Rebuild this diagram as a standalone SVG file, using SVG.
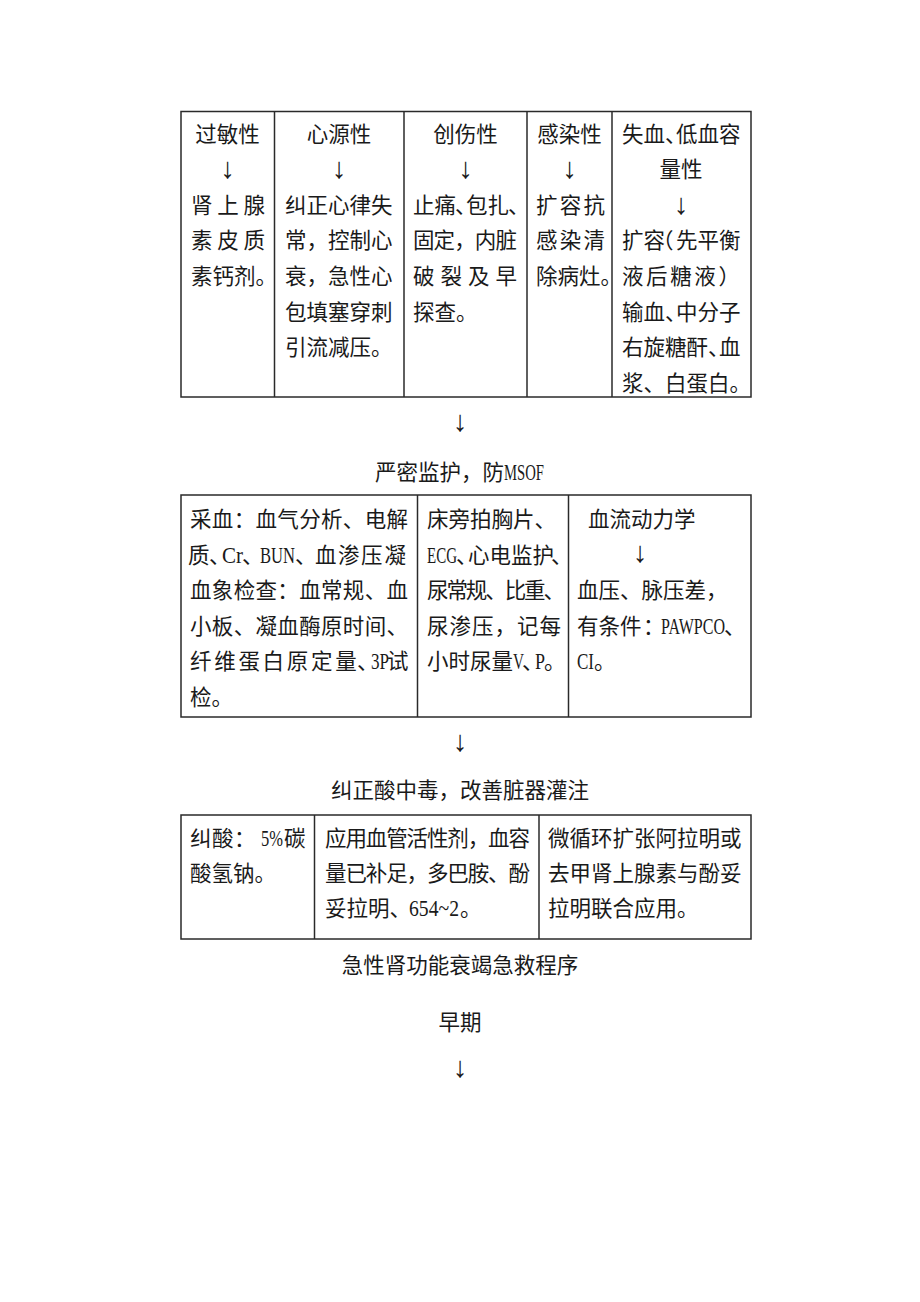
<svg xmlns="http://www.w3.org/2000/svg" width="920" height="1302" viewBox="0 0 920 1302">
<style>
.bg{fill:#ffffff}
.box{fill:none;stroke:#2a2a2a;stroke-width:1.5}
.t{font-family:"Liberation Serif","Noto Sans CJK SC",serif;font-size:21.5px;fill:#1a1a1a}
.m{text-anchor:middle}
.l{font-size:23px}
.ar{font-family:"Liberation Serif","DejaVu Serif",serif;font-size:29px;fill:#1a1a1a;text-anchor:middle}
</style>
<rect class="bg" x="0" y="0" width="920" height="1302"/>

<!-- Table 1 -->
<g id="table1">
<rect class="box" x="181" y="111.5" width="570" height="285.5"/>
<line class="box" x1="274.5" y1="111.5" x2="274.5" y2="397"/>
<line class="box" x1="404" y1="111.5" x2="404" y2="397"/>
<line class="box" x1="527" y1="111.5" x2="527" y2="397"/>
<line class="box" x1="612" y1="111.5" x2="612" y2="397"/>
</g>
<g id="t1-allergic">
<text class="t m" x="227.5" y="141.5">过敏性</text>
<text class="ar" x="227.5" y="177.5">↓</text>
<text class="t" x="191" y="212.5" textLength="74" lengthAdjust="spacing">肾上腺</text>
<text class="t" x="191" y="248" textLength="74" lengthAdjust="spacing">素皮质</text>
<text class="t" x="191" y="284">素钙剂。</text>
</g>
<g id="t1-cardiac">
<text class="t m" x="339" y="141.5">心源性</text>
<text class="ar" x="339" y="177.5">↓</text>
<text class="t" x="285" y="212.5">纠正心律失</text>
<text class="t" x="285" y="248">常，控制心</text>
<text class="t" x="285" y="284">衰，急性心</text>
<text class="t" x="285" y="319.5">包填塞穿刺</text>
<text class="t" x="285" y="355">引流减压。</text>
</g>
<g id="t1-trauma">
<text class="t m" x="465.5" y="141.5">创伤性</text>
<text class="ar" x="465.5" y="177.5">↓</text>
<text class="t" x="413 434.5 455 466 487.5 508" y="212.5">止痛、包扎、</text>
<text class="t" x="413" y="248" textLength="104" lengthAdjust="spacing">固定，内脏</text>
<text class="t" x="413" y="284" textLength="104" lengthAdjust="spacing">破裂及早</text>
<text class="t" x="413" y="319.5">探查。</text>
</g>
<g id="t1-infection">
<text class="t m" x="569.5" y="141.5">感染性</text>
<text class="ar" x="569.5" y="177.5">↓</text>
<text class="t" x="536" y="212.5" textLength="69" lengthAdjust="spacing">扩容抗</text>
<text class="t" x="536" y="248" textLength="69" lengthAdjust="spacing">感染清</text>
<text class="t" x="536" y="284">除病灶。</text>
</g>
<g id="t1-hypovolemic">
<text class="t" x="622 643.5 665 676 697.5 719" y="141.5">失血、低血容</text>
<text class="t m" x="681" y="177">量性</text>
<text class="ar" x="681" y="214">↓</text>
<text class="t" x="622 643.5 652 676 697.5 719" y="248">扩容（先平衡</text>
<text class="t" x="622" y="284" textLength="118" lengthAdjust="spacing">液后糖液）</text>
<text class="t" x="622 643.5 665 676 697.5 719" y="319.5">输血、中分子</text>
<text class="t" x="622 643.5 665 686.5 708 719" y="355">右旋糖酐、血</text>
<text class="t" x="622" y="390.5">浆、白蛋白。</text>
</g>

<!-- connectors -->
<g id="connectors">
<text class="ar" x="460" y="431">↓</text>
<text class="ar" x="460" y="751">↓</text>
<text class="ar" x="460" y="1077">↓</text>
</g>

<g id="label-monitor">
<text class="t" y="480"><tspan x="375">严密监护，防</tspan><tspan class="l" x="504" textLength="40" lengthAdjust="spacingAndGlyphs">MSOF</tspan></text>
</g>

<!-- Table 2 -->
<g id="table2">
<rect class="box" x="181" y="495" width="570" height="222"/>
<line class="box" x1="417.5" y1="495" x2="417.5" y2="717"/>
<line class="box" x1="568.5" y1="495" x2="568.5" y2="717"/>
</g>
<g id="t2-blood">
<text class="t" x="190" y="527" textLength="218" lengthAdjust="spacing">采血：血气分析、电解</text>
<text class="t" y="562.5"><tspan x="188">质</tspan><tspan x="209">、</tspan><tspan class="l" x="222" textLength="21" lengthAdjust="spacingAndGlyphs">Cr</tspan><tspan x="242">、</tspan><tspan class="l" x="260" textLength="35" lengthAdjust="spacingAndGlyphs">BUN</tspan><tspan x="295">、</tspan><tspan x="315 338 361 384.5">血渗压凝</tspan></text>
<text class="t" x="190" y="598" textLength="218" lengthAdjust="spacing">血象检查：血常规、血</text>
<text class="t" x="190" y="633.5" textLength="218" lengthAdjust="spacing">小板、凝血酶原时间、</text>
<text class="t" y="669"><tspan x="190 214.2 238.4 262.6 286.8 311 335.2 357">纤维蛋白原定量、</tspan><tspan class="l" x="371" textLength="18" lengthAdjust="spacingAndGlyphs">3P</tspan><tspan x="387">试</tspan></text>
<text class="t" x="190" y="704.5">检。</text>
</g>
<g id="t2-bedside">
<text class="t" x="427" y="527">床旁拍胸片、</text>
<text class="t" y="562.5"><tspan class="l" x="427" textLength="30" lengthAdjust="spacingAndGlyphs">ECG</tspan><tspan x="456">、</tspan><tspan x="468 489.5 511 532.5 551">心电监护、</tspan></text>
<text class="t" x="427" y="598" textLength="138" lengthAdjust="spacing">尿常规、比重、</text>
<text class="t" x="427" y="633.5" textLength="134" lengthAdjust="spacing">尿渗压，记每</text>
<text class="t" y="669"><tspan x="427 448.5 470 491.5">小时尿量</tspan><tspan class="l" x="513" textLength="11" lengthAdjust="spacingAndGlyphs">V</tspan><tspan x="522">、</tspan><tspan class="l" x="535" textLength="10" lengthAdjust="spacingAndGlyphs">P</tspan><tspan x="544">。</tspan></text>
</g>
<g id="t2-hemodynamics">
<text class="t" x="588" y="527">血流动力学</text>
<text class="ar" x="640" y="562">↓</text>
<text class="t" x="577" y="598">血压、脉压差，</text>
<text class="t" y="633.5"><tspan x="577 598.5 620 643">有条件：</tspan><tspan class="l" x="661" textLength="64" lengthAdjust="spacingAndGlyphs">PAWPCO</tspan><tspan x="724">、</tspan></text>
<text class="t" y="669"><tspan class="l" x="577" textLength="17" lengthAdjust="spacingAndGlyphs">CI</tspan><tspan x="594">。</tspan></text>
</g>

<g id="label-acidosis">
<text class="t m" x="460" y="798">纠正酸中毒，改善脏器灌注</text>
</g>

<!-- Table 3 -->
<g id="table3">
<rect class="box" x="181" y="815" width="570" height="124"/>
<line class="box" x1="314.5" y1="815" x2="314.5" y2="939"/>
<line class="box" x1="539" y1="815" x2="539" y2="939"/>
</g>
<g id="t3-acid">
<text class="t" y="846"><tspan x="190 212 234">纠酸：</tspan><tspan class="l" x="261" textLength="22" lengthAdjust="spacingAndGlyphs">5%</tspan><tspan x="284">碳</tspan></text>
<text class="t" x="190" y="881">酸氢钠。</text>
</g>
<g id="t3-vasoactive">
<text class="t" x="325" y="846" textLength="205" lengthAdjust="spacing">应用血管活性剂，血容</text>
<text class="t" x="325" y="881" textLength="205" lengthAdjust="spacing">量已补足，多巴胺、酚</text>
<text class="t" y="916"><tspan x="325">妥拉明、</tspan><tspan class="l" x="409" textLength="50" lengthAdjust="spacingAndGlyphs">654~2</tspan><tspan x="460">。</tspan></text>
</g>
<g id="t3-microcirculation">
<text class="t" x="548" y="846">微循环扩张阿拉明或</text>
<text class="t" x="548" y="881">去甲肾上腺素与酚妥</text>
<text class="t" x="548" y="916">拉明联合应用。</text>
</g>

<g id="title-arf">
<text class="t m" x="460" y="973">急性肾功能衰竭急救程序</text>
</g>
<g id="label-early">
<text class="t m" x="460" y="1030">早期</text>
</g>
</svg>
